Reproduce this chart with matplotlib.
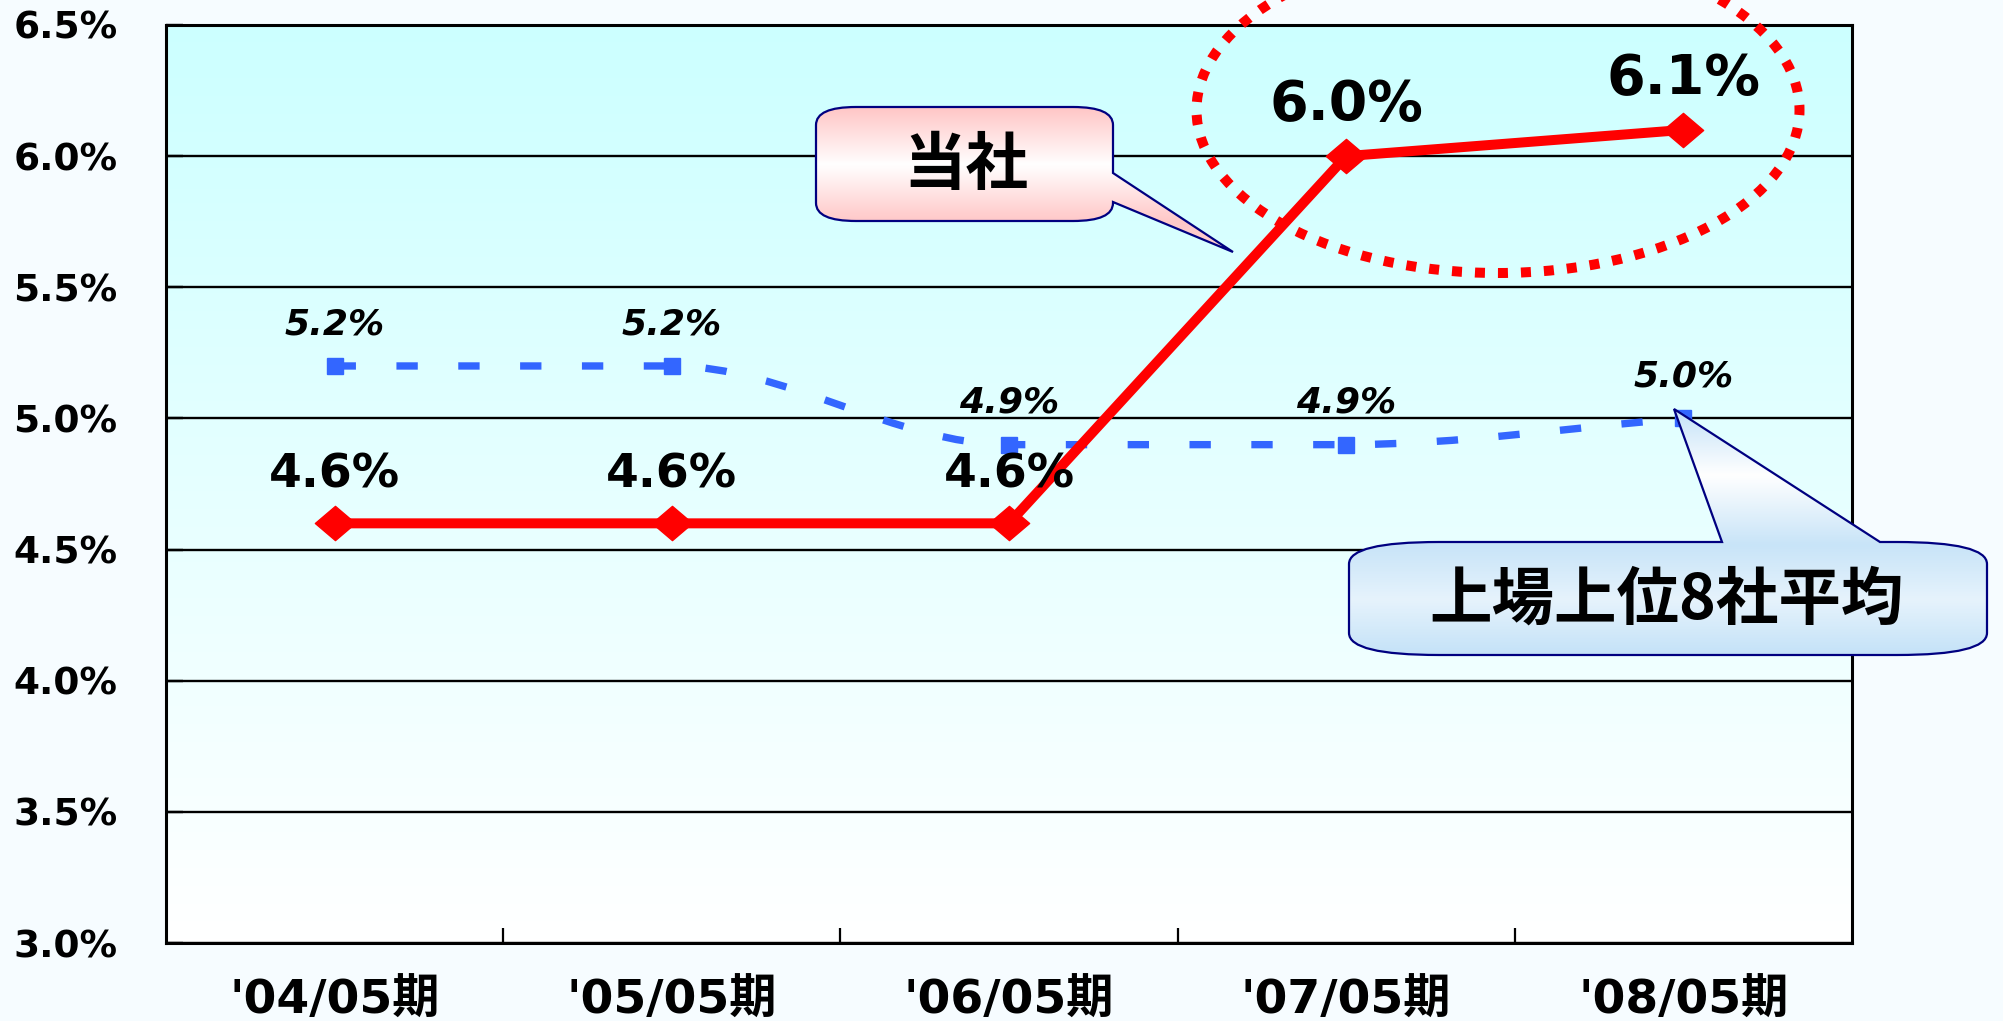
import numpy as np
import matplotlib
matplotlib.use("Agg")
import matplotlib.pyplot as plt
from matplotlib.path import Path
from matplotlib.patches import PathPatch, Ellipse

# data
periods = ["'04/05期", "'05/05期", "'06/05期", "'07/05期", "'08/05期"]
company = [4.6, 4.6, 4.6, 6.0, 6.1]      # 当社
top8_avg = [5.2, 5.2, 4.9, 4.9, 5.0]     # 上場上位8社平均
y_ticks = [3.0, 3.5, 4.0, 4.5, 5.0, 5.5, 6.0, 6.5]

RED = "#FF0000"
BLUE = "#3366FF"
NAVY = "#000080"
JP = ["DejaVu Sans", "Noto Sans CJK JP"]

W, H = 2003, 1021
fig = plt.figure(figsize=(W / 100, H / 100), dpi=100)
fig.patch.set_facecolor("#F6FCFF")
ax = fig.add_axes([166 / W, 1 - 943 / H, (1852 - 166) / W, (943 - 25) / H])

x = np.arange(len(periods))

# plot area background: cyan at top fading to white
t = np.linspace(0, 1, 256)[:, None, None]
top_c = np.array([0xCC, 0xFF, 0xFF]) / 255
bg = top_c * (1 - t) + np.ones(3) * t
ax.imshow(bg, extent=(-0.5, 4.5, 3.0, 6.5), aspect="auto", zorder=0)


def smooth_path(xs, ys):
    # smoothed line through the points, flat tangent where a neighbour segment is flat
    xs = np.asarray(xs, float)
    ys = np.asarray(ys, float)
    d = np.diff(ys) / np.diff(xs)
    m = np.zeros(len(ys))
    for i in range(1, len(ys) - 1):
        if d[i - 1] * d[i] > 0:
            m[i] = (d[i - 1] + d[i]) / 2
    m[0], m[-1] = d[0], d[-1]
    verts = [(xs[0], ys[0])]
    codes = [Path.MOVETO]
    for i in range(len(xs) - 1):
        h = xs[i + 1] - xs[i]
        verts += [(xs[i] + h / 3, ys[i] + m[i] * h / 3),
                  (xs[i + 1] - h / 3, ys[i + 1] - m[i + 1] * h / 3),
                  (xs[i + 1], ys[i + 1])]
        codes += [Path.CURVE4] * 3
    return Path(verts, codes)


blue_line = PathPatch(smooth_path(x, top8_avg), fill=False, ec=BLUE, lw=5.3,
                      linestyle=(0, (2.9, 5.5)), zorder=3)
ax.add_patch(blue_line)
ax.plot(x, top8_avg, ls="none", marker="s", ms=11, color=BLUE, zorder=3.1)

diamond = Path([(-1, 0), (0, 0.85), (1, 0), (0, -0.85), (-1, 0)],
               [Path.MOVETO, Path.LINETO, Path.LINETO, Path.LINETO, Path.CLOSEPOLY])
ax.plot(x, company, color=RED, lw=7.2, marker=diamond, ms=29, zorder=4)

for xi, v in zip(x, top8_avg):
    ax.annotate(f"{v:.1f}%", (xi, v), xytext=(0, 23), textcoords="offset points",
                ha="center", va="baseline", fontsize=26, fontweight="bold",
                fontstyle="italic", family="DejaVu Sans", zorder=6)
for xi, v in zip(x, company):
    ax.annotate(f"{v:.1f}%", (xi, v), xytext=(0, 26), textcoords="offset points",
                ha="center", va="baseline", fontsize=40 if v >= 6 else 34,
                fontweight="bold", family="DejaVu Sans", zorder=6)

ax.set_xlim(-0.5, 4.5)
ax.set_ylim(3.0, 6.5)
ax.set_xticks(x)
ax.set_xticklabels(periods, fontsize=34, fontweight="bold", family=JP)
ax.set_xticks(x[:-1] + 0.5, minor=True)
ax.tick_params(axis="x", which="major", length=0, pad=26)
ax.tick_params(axis="x", which="minor", direction="in", length=11, width=1.6)
ax.set_yticks(y_ticks)
ax.set_yticklabels([f"{v:.1f}%" for v in y_ticks], fontsize=27,
                   fontweight="bold", family="DejaVu Sans")
ax.tick_params(axis="y", direction="in", length=12, width=1.7, pad=35)
ax.yaxis.grid(True, color="black", lw=1.7)
ax.set_axisbelow(True)
for s in ax.spines.values():
    s.set_linewidth(2.2)
    s.set_color("black")

# overlay in pixel coords for callouts and the highlight ring
ov = fig.add_axes([0, 0, 1, 1], zorder=5)
ov.axis("off")


def bubble(x0, y0, x1, y1, rx, ry, side, a, b, tip):
    L, Q = Path.LINETO, Path.CURVE3
    V = [(x0 + rx, y0)]
    C = [Path.MOVETO]
    if side == "top":
        V += [(a, y0), tip, (b, y0)]
        C += [L, L, L]
    V += [(x1 - rx, y0), (x1, y0), (x1, y0 + ry)]
    C += [L, Q, Q]
    if side == "right":
        V += [(x1, a), tip, (x1, b)]
        C += [L, L, L]
    V += [(x1, y1 - ry), (x1, y1), (x1 - rx, y1)]
    C += [L, Q, Q]
    V += [(x0 + rx, y1), (x0, y1), (x0, y1 - ry)]
    C += [L, Q, Q]
    V += [(x0, y0 + ry), (x0, y0), (x0 + rx, y0)]
    C += [L, Q, Q]
    V += [(x0 + rx, y0)]
    C += [Path.CLOSEPOLY]
    return Path(V, C)


def grad_fill(path, stops, colors):
    v = path.vertices
    xmin, xmax = v[:, 0].min(), v[:, 0].max()
    ymin, ymax = v[:, 1].min(), v[:, 1].max()
    rows = np.linspace(ymin, ymax, 300)
    cols = np.array([matplotlib.colors.to_rgb(c) for c in colors])
    img = np.stack([np.interp(rows, stops, cols[:, k]) for k in range(3)], axis=-1)[:, None, :]
    im = ov.imshow(img, extent=(xmin, xmax, ymax, ymin), aspect="auto", zorder=5)
    edge = PathPatch(path, fc="none", ec=NAVY, lw=1.6, zorder=5.1)
    ov.add_patch(edge)
    im.set_clip_path(edge)


pink = bubble(816, 107, 1113, 221, 40, 18, "right", 173, 202, (1233, 252))
grad_fill(pink, [107, 165, 221, 252], ["#FFC4C4", "#FFFFFF", "#FFC8C8", "#FFD0D0"])
ov.text(966, 166, "当社", ha="center", va="center", fontsize=45,
        fontweight="bold", family="Noto Sans CJK JP", zorder=6)

blue = bubble(1349, 542, 1987, 655, 90, 22, "top", 1722, 1880, (1674, 409))
grad_fill(blue, [409, 475, 545, 600, 655],
          ["#C4E2F8", "#FFFFFF", "#C8E4F8", "#E6F3FC", "#C4E2F8"])
ov.text(1667, 600, "上場上位8社平均", ha="center", va="center", fontsize=45,
        fontweight="bold", family="Noto Sans CJK JP", zorder=6)

ring = Ellipse((1498, 110), 603, 326, fill=False, ec=RED, lw=7.2,
               linestyle=(0, (1.0, 1.3)), zorder=6)
ov.add_patch(ring)

ov.set_xlim(0, W)
ov.set_ylim(H, 0)

fig.savefig("out.png", dpi=100, facecolor=fig.get_facecolor())
